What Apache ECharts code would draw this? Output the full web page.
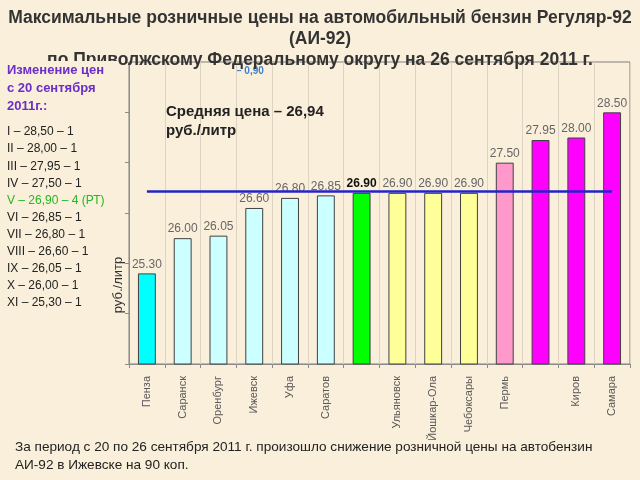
<!DOCTYPE html>
<html>
<head>
<meta charset="utf-8">
<script src="https://cdn.jsdelivr.net/npm/echarts@6/dist/echarts.min.js"></script>
<style>
  html, body { margin: 0; padding: 0; background: #faefda; }
  #chart { width: 640px; height: 480px; }
</style>
</head>
<body>
<div id="chart"></div>
<script>
// cities (two labels are not shown on the original slide)
const cities = ['Пенза', 'Саранск', 'Оренбург', 'Ижевск', 'Уфа', 'Саратов', '', 'Ульяновск', 'Йошкар-Ола', 'Чебоксары', 'Пермь', '', 'Киров', 'Самара']
const prices = [25.30, 26.00, 26.05, 26.60, 26.80, 26.85, 26.90, 26.90, 26.90, 26.90, 27.50, 27.95, 28.00, 28.50]
const averagePrice = 26.94
const highlightIndex = 6

const barColors = ['#00ffff', '#ccffff', '#ccffff', '#ccffff', '#ccffff', '#ccffff', '#00ff00', '#ffff99', '#ffff99', '#ffff99', '#ff99cc', '#ff00ff', '#ff00ff', '#ff00ff']

const titleLines = [
  'Максимальные розничные цены на автомобильный бензин Регуляр-92',
  '(АИ-92)',
  'по Приволжскому Федеральному округу на 26 сентября 2011 г.'
]
const changeHeader = ['Изменение цен', 'с 20 сентября', '2011г.:']
const changeList = [
  'I – 28,50 – 1',
  'II – 28,00 – 1',
  'III – 27,95 – 1',
  'IV – 27,50 – 1',
  'V – 26,90 – 4 (РТ)',
  'VI – 26,85 – 1',
  'VII – 26,80 – 1',
  'VIII – 26,60 – 1',
  'IX – 26,05 – 1',
  'X – 26,00 – 1',
  'XI – 25,30 – 1'
]
const averageText = ['Средняя цена – 26,94', 'руб./литр']
const izhevskChange = '– 0,90'
const footerLines = [
  'За период с 20 по 26 сентября 2011 г. произошло снижение розничной цены на автобензин',
  'АИ-92 в Ижевске на 90 коп.'
]

const bg = '#faefda'
const font = 'Liberation Sans'

const graphics = []

// title
titleLines.forEach((t, i) => {
  graphics.push({
    type: 'text', left: 'center', top: 9 + i * 21, z: 1,
    style: { text: t, font: `bold 17.5px "${font}"`, fill: '#333' }
  })
})

// box on the left that hides the start of the 3rd title line
graphics.push({
  type: 'rect', z: 5,
  shape: { x: 0, y: 61, width: 118, height: 260 },
  style: { fill: bg }
})

changeHeader.forEach((t, i) => {
  graphics.push({
    type: 'text', left: 7, top: 64 + i * 18, z: 6,
    style: { text: t, font: `bold 13px "${font}"`, fill: '#6a2fc8' }
  })
})

changeList.forEach((t, i) => {
  graphics.push({
    type: 'text', left: 7, top: 126 + i * 17.1, z: 6,
    style: { text: t, font: `12px "${font}"`, fill: i === 4 ? '#22b822' : '#222' }
  })
})

averageText.forEach((t, i) => {
  graphics.push({
    type: 'text', left: 166, top: 104 + i * 19, z: 6,
    style: { text: t, font: `bold 15px "${font}"`, fill: '#222' }
  })
})

graphics.push({
  type: 'text', left: 236, top: 66, z: 0,
  style: { text: izhevskChange, font: `bold 10px "${font}"`, fill: '#3b82d0' }
})

graphics.push({
  type: 'text', z: 6, x: 118, y: 285, rotation: Math.PI / 2,
  style: { text: 'руб./литр', font: `13px "${font}"`, fill: '#333', align: 'center', verticalAlign: 'middle' }
})

footerLines.forEach((t, i) => {
  graphics.push({
    type: 'text', left: 15, top: 440 + i * 18, z: 6,
    style: { text: t, font: `13.6px "${font}"`, fill: '#222' }
  })
})

const chart = echarts.init(document.getElementById('chart'))

const option = {
  backgroundColor: bg,
  animation: false,
  textStyle: { fontFamily: font },
  graphic: graphics,
  grid: {
    left: 129, right: 10, top: 62, bottom: 116,
    show: true, borderColor: '#7f7f7f', borderWidth: 1
  },
  xAxis: {
    type: 'category',
    data: cities,
    axisLine: { lineStyle: { color: '#8c8c8c' } },
    axisTick: { show: true, alignWithLabel: false, length: 4, lineStyle: { color: '#8c8c8c' } },
    axisLabel: { rotate: 90, interval: 0, fontSize: 11, color: '#595959', margin: 12 },
    splitLine: { show: true, lineStyle: { color: '#ddd3c0' } }
  },
  yAxis: {
    type: 'value',
    min: 23.5,
    max: 29.5,
    interval: 1,
    axisLine: { show: true, lineStyle: { color: '#8c8c8c' } },
    axisTick: { show: true, length: 4, lineStyle: { color: '#8c8c8c' } },
    axisLabel: { show: false },
    splitLine: { show: false }
  },
  series: [{
    type: 'bar',
    barWidth: '50%',
    data: prices.map((v, i) => ({
      value: v,
      itemStyle: { color: barColors[i] },
      label: i === highlightIndex ? { fontWeight: 'bold', color: '#111' } : undefined
    })),
    itemStyle: { borderColor: '#404040', borderWidth: 1 },
    label: {
      show: true,
      position: 'top',
      distance: 3,
      fontSize: 12,
      color: '#666',
      formatter: p => p.value.toFixed(2)
    },
    markLine: {
      silent: true,
      symbol: 'none',
      label: { show: false },
      lineStyle: { color: '#2323c8', width: 2.5, type: 'solid' },
      data: [[
        { coord: [0, averagePrice] },
        { coord: [prices.length - 1, averagePrice] }
      ]]
    }
  }]
}

chart.setOption(option)
</script>
</body>
</html>
